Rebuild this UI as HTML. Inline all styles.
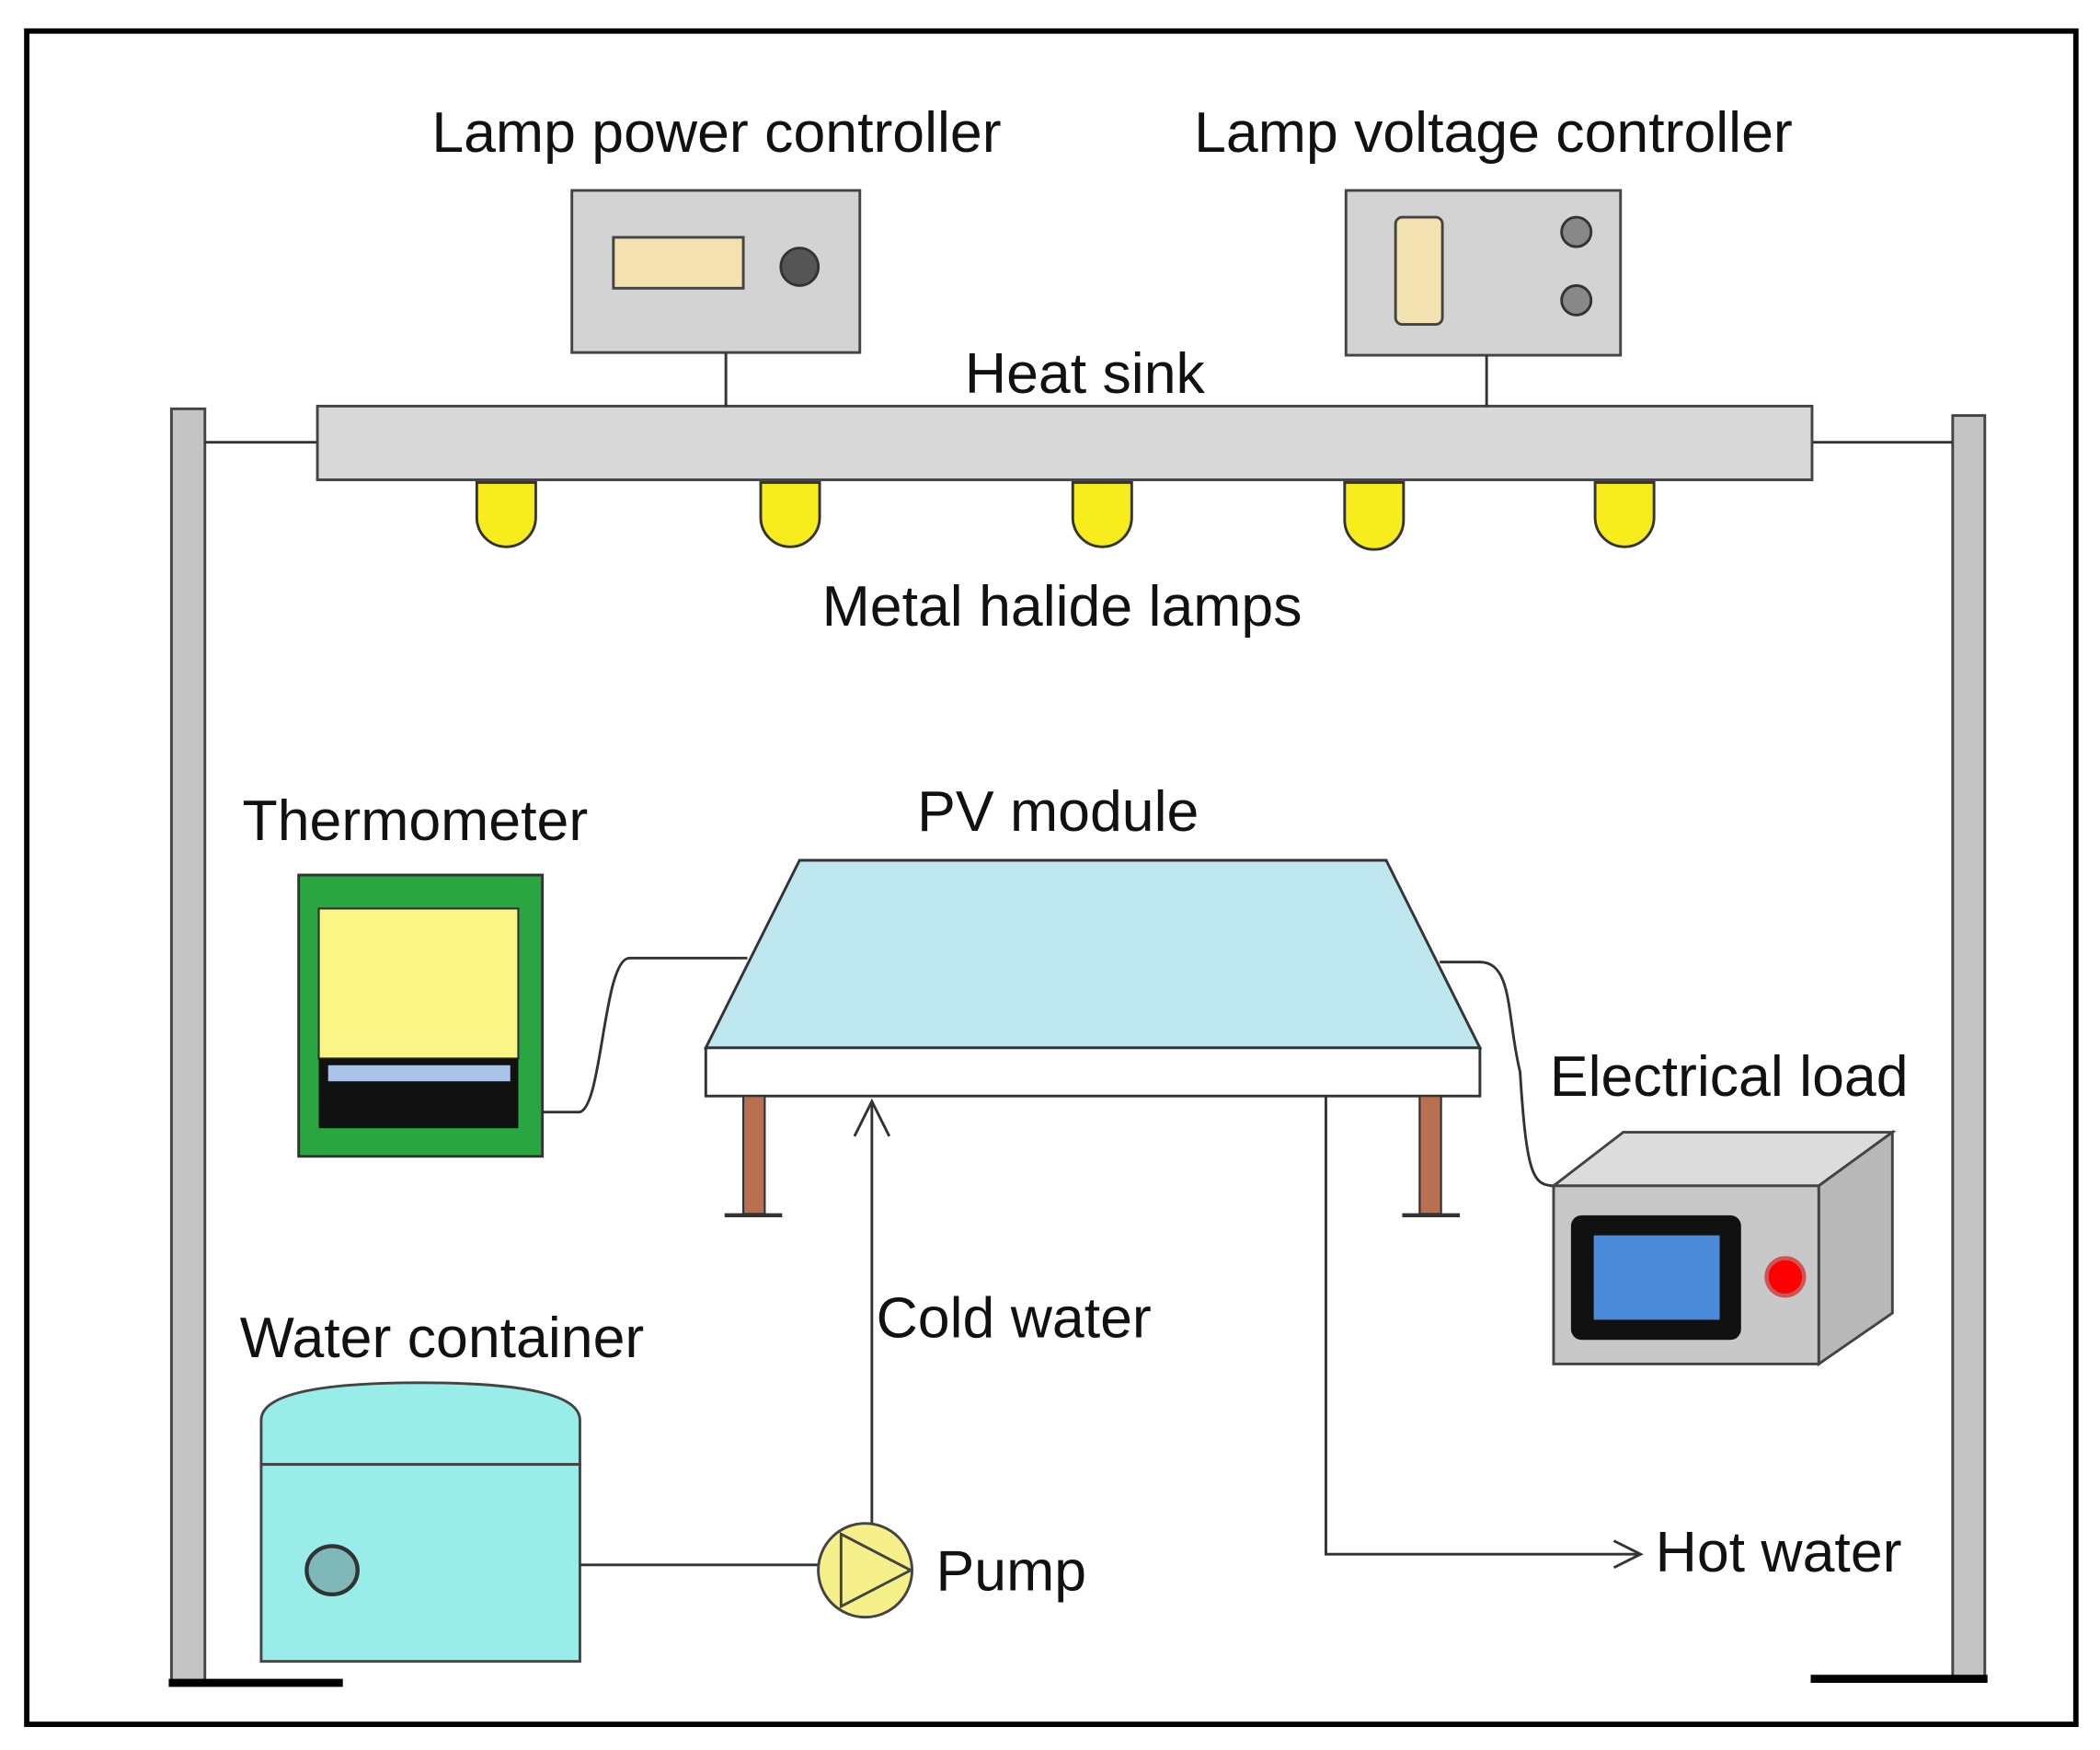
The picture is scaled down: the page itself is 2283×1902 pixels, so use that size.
<!DOCTYPE html>
<html><head><meta charset="utf-8"><style>
html,body{margin:0;padding:0;background:#fff;}
svg{display:block;}
text{font-family:"Liberation Sans",sans-serif;font-size:43px;fill:#111;text-anchor:middle;}
</style></head><body>
<svg width="2283" height="1902" viewBox="0 0 1568 1306" xmlns="http://www.w3.org/2000/svg">
<rect x="20" y="23" width="1530" height="1264" fill="#fff" stroke="#000" stroke-width="4"/>
<!-- poles -->
<rect x="128" y="305" width="25" height="950" fill="#c4c4c4" stroke="#444" stroke-width="2"/>
<line x1="126" y1="1256" x2="256" y2="1256" stroke="#000" stroke-width="6"/>
<rect x="1458" y="310" width="24" height="945" fill="#c4c4c4" stroke="#444" stroke-width="2"/>
<line x1="1352" y1="1253" x2="1484" y2="1253" stroke="#000" stroke-width="6"/>
<line x1="153" y1="330" x2="237" y2="330" stroke="#333" stroke-width="2"/>
<line x1="1353" y1="330" x2="1458" y2="330" stroke="#333" stroke-width="2"/>
<!-- heat sink -->
<rect x="237" y="303" width="1116" height="55" fill="#d9d9d9" stroke="#444" stroke-width="2"/>
<g fill="#f7ec1c" stroke="#333" stroke-width="2">
<path d="M356 360 V386 A22 22 0 0 0 400 386 V360 Z"/>
<path d="M568 360 V386 A22 22 0 0 0 612 386 V360 Z"/>
<path d="M801 360 V386 A22 22 0 0 0 845 386 V360 Z"/>
<path d="M1004 360 V388 A22 22 0 0 0 1048 388 V360 Z"/>
<path d="M1191 360 V386 A22 22 0 0 0 1235 386 V360 Z"/>
</g>
<!-- controllers -->
<rect x="427" y="142" width="215" height="121" fill="#d3d3d3" stroke="#444" stroke-width="2"/>
<rect x="458" y="177" width="97" height="38" fill="#f3e1b0" stroke="#444" stroke-width="2"/>
<circle cx="597" cy="199" r="14" fill="#555" stroke="#333" stroke-width="2"/>
<line x1="542" y1="263" x2="542" y2="303" stroke="#333" stroke-width="2"/>
<rect x="1005" y="142" width="205" height="123" fill="#d3d3d3" stroke="#444" stroke-width="2"/>
<rect x="1042" y="162" width="35" height="80" rx="5" fill="#f3e1b0" stroke="#444" stroke-width="2"/>
<circle cx="1177" cy="173" r="11" fill="#888" stroke="#333" stroke-width="2"/>
<circle cx="1177" cy="224" r="11" fill="#888" stroke="#333" stroke-width="2"/>
<line x1="1110" y1="265" x2="1110" y2="303" stroke="#333" stroke-width="2"/>
<!-- thermometer -->
<rect x="223" y="653" width="182" height="210" fill="#2aa640" stroke="#333" stroke-width="2"/>
<rect x="238" y="678" width="149" height="112" fill="#fbf585" stroke="#333" stroke-width="1.5"/>
<rect x="238" y="790" width="149" height="52" fill="#111"/>
<rect x="245" y="795" width="136" height="12" fill="#a9c4e8"/>
<!-- PV module -->
<polygon points="597,642 1035,642 1105,782 527,782" fill="#bde6ee" stroke="#333" stroke-width="2"/>
<rect x="527" y="782" width="578" height="36" fill="#fff" stroke="#333" stroke-width="2"/>
<rect x="555" y="818" width="16" height="88" fill="#b87050" stroke="#333" stroke-width="1.5"/>
<rect x="1060" y="818" width="16" height="88" fill="#b87050" stroke="#333" stroke-width="1.5"/>
<line x1="541" y1="907" x2="584" y2="907" stroke="#333" stroke-width="3"/>
<line x1="1047" y1="907" x2="1090" y2="907" stroke="#333" stroke-width="3"/>
<path d="M405 830 H432 C450 830 450 715 470 715 H558" fill="none" stroke="#333" stroke-width="2"/>
<path d="M1075 718 H1105 C1130 718 1125 760 1135 800 C1140 880 1145 885 1162 885" fill="none" stroke="#333" stroke-width="2"/>
<!-- electrical load -->
<polygon points="1160,885 1212,845 1413,845 1358,885" fill="#dcdcdc" stroke="#444" stroke-width="2"/>
<polygon points="1358,885 1413,845 1413,980 1358,1018" fill="#b8b8b8" stroke="#444" stroke-width="2"/>
<rect x="1160" y="885" width="198" height="133" fill="#c8c8c8" stroke="#444" stroke-width="2"/>
<rect x="1173" y="907" width="127" height="93" rx="8" fill="#111"/>
<rect x="1190" y="922" width="94" height="63" fill="#4a8ad8"/>
<circle cx="1333" cy="953" r="14" fill="#f00" stroke="#c55" stroke-width="3"/>
<!-- water lines -->
<line x1="651" y1="1138" x2="651" y2="822" stroke="#333" stroke-width="2"/>
<polyline points="638,848 651,822 664,848" fill="none" stroke="#333" stroke-width="2"/>
<polyline points="990,818 990,1160 1225,1160" fill="none" stroke="#333" stroke-width="2"/>
<polyline points="1205,1150 1225,1160 1205,1170" fill="none" stroke="#333" stroke-width="2"/>
<!-- water container -->
<path d="M195 1093 V1060 Q195 1032 314 1032 Q433 1032 433 1060 V1093 Z" fill="#99ede9" stroke="#444" stroke-width="2"/>
<rect x="195" y="1093" width="238" height="147" fill="#99ede9" stroke="#444" stroke-width="2"/>
<ellipse cx="248" cy="1172" rx="19" ry="18" fill="#7fb8b8" stroke="#333" stroke-width="3"/>
<line x1="433" y1="1168" x2="611" y2="1168" stroke="#333" stroke-width="2"/>
<circle cx="646" cy="1172" r="35" fill="#f5f08a" stroke="#444" stroke-width="2"/>
<polygon points="628,1145 680,1172 628,1199" fill="#f5f08a" stroke="#444" stroke-width="2"/>
<!-- labels -->
<text x="535" y="113">Lamp power controller</text>
<text x="1115" y="113">Lamp voltage controller</text>
<text x="810" y="293">Heat sink</text>
<text x="793" y="467">Metal halide lamps</text>
<text x="310" y="627">Thermometer</text>
<text x="790" y="620">PV module</text>
<text x="1291" y="818">Electrical load</text>
<text x="330" y="1013">Water container</text>
<text x="757" y="998">Cold water</text>
<text x="755" y="1187">Pump</text>
<text x="1328" y="1173">Hot water</text>
</svg>
</body></html>
